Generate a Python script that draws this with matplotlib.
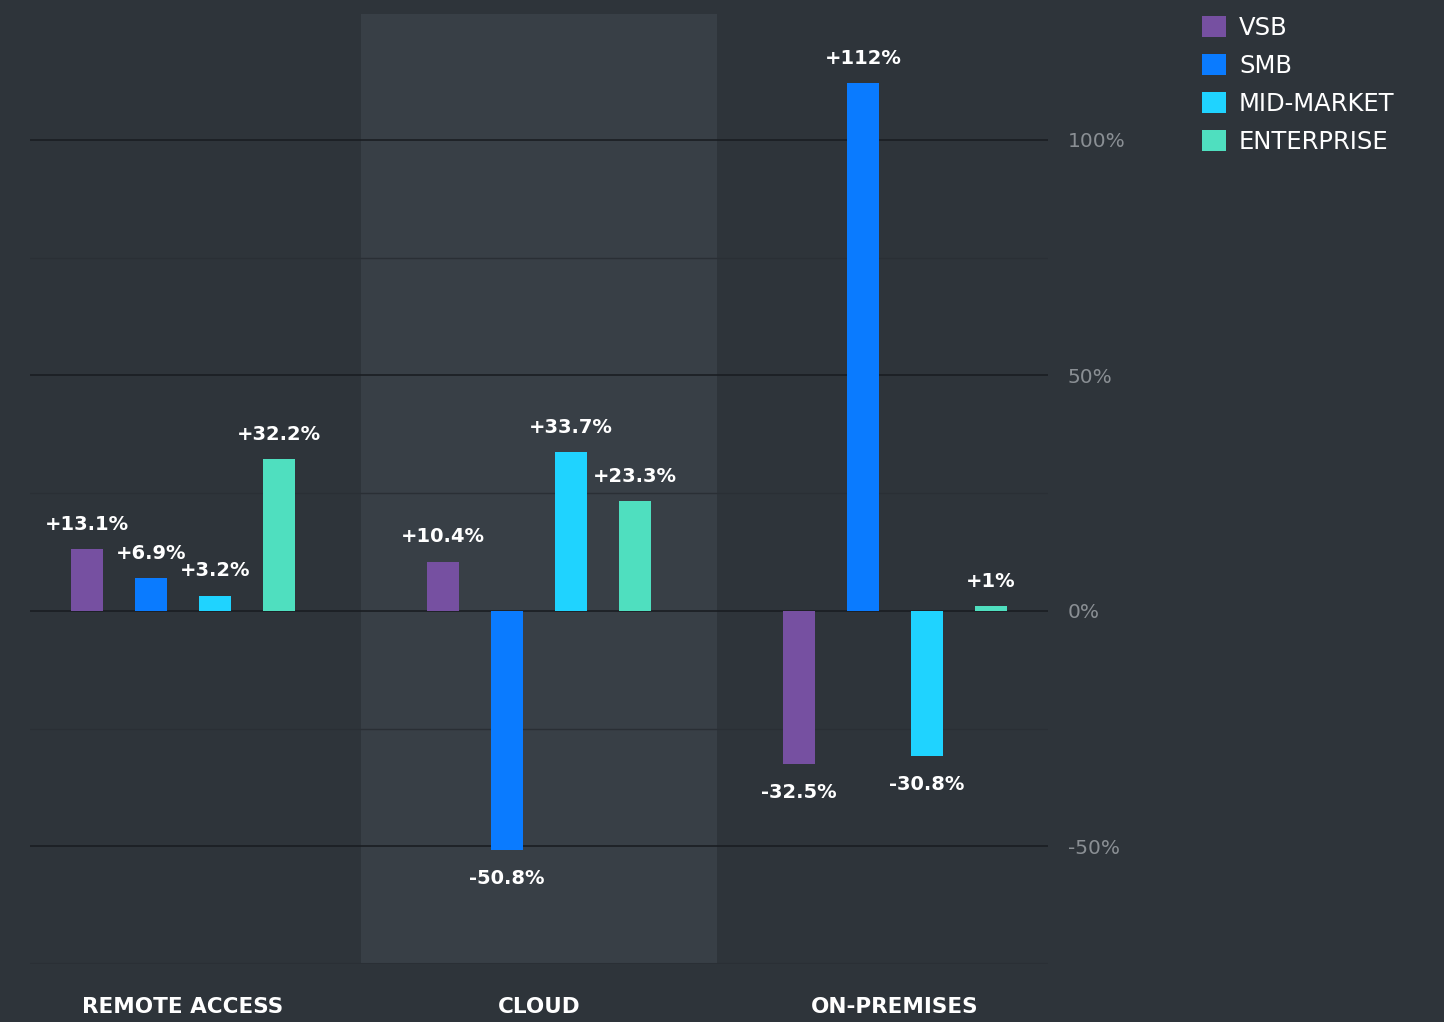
import numpy as np
import matplotlib
matplotlib.use('Agg')
import matplotlib.pyplot as plt
from matplotlib.patches import Patch

# data
categories = ['REMOTE ACCESS', 'CLOUD', 'ON-PREMISES']
segments = ['VSB', 'SMB', 'MID-MARKET', 'ENTERPRISE']
vsb = [13.1, 10.4, -32.5]
smb = [6.9, -50.8, 112]
mid_market = [3.2, 33.7, -30.8]
enterprise = [32.2, 23.3, 1]
value_labels = [['+13.1%', '+10.4%', '-32.5%'],
                ['+6.9%', '-50.8%', '+112%'],
                ['+3.2%', '+33.7%', '-30.8%'],
                ['+32.2%', '+23.3%', '+1%']]
y_ticks = [-50, 0, 50, 100]
y_tick_labels = ['-50%', '0%', '50%', '100%']

colors = ['#7650a1', '#0a7bff', '#1fd3ff', '#4fdfbf']
bg = '#2e343a'
band = '#383f46'

plt.rcParams['font.family'] = ['DejaVu Sans']

fig = plt.figure(figsize=(14.44, 10.22), dpi=100, facecolor=bg)
ax = fig.add_axes([30 / 1444, 58 / 1022, 1018 / 1444, 950 / 1022])
ax.set_facecolor(bg)

x = np.arange(len(categories))
width = 0.09
step = 0.18
series = [vsb, smb, mid_market, enterprise]

ax.set_xlim(-0.43, 2.43)
ax.set_ylim(-75, 126.7)

# shaded middle category
ax.axvspan(0.5, 1.5, color=band, zorder=0, lw=0)

# grid lines
for v in [-25, 25, 75]:
    ax.axhline(v, color='#2a2f35', lw=1, zorder=1)
for v in y_ticks:
    ax.axhline(v, color='#1a1e22', lw=1.2, zorder=1)
ax.axhline(-75, color='#2a2f35', lw=1.5, zorder=1)

for i, vals in enumerate(series):
    pos = x + (i - 1.5) * step
    ax.bar(pos, vals, width, color=colors[i], zorder=3, label=segments[i])
    for p, v, lab in zip(pos, vals, value_labels[i]):
        off = 5.3 if v >= 0 else -6.0
        ax.text(p, v + off, lab, ha='center', va='center', color='white',
                fontsize=14, fontweight='bold', zorder=4)

for s in ax.spines.values():
    s.set_visible(False)
ax.set_xticks([])
ax.set_yticks([])

# right side y tick labels
for v, lab in zip(y_ticks, y_tick_labels):
    ax.text(1.0195, v, lab, transform=ax.get_yaxis_transform(),
            ha='left', va='center_baseline', color='#8a8f94', fontsize=14.5)

# category labels
for xi, c in zip(x, categories):
    ax.text(xi, -84.2, c, ha='center', va='center', color='white',
            fontsize=15.5, fontweight='bold', clip_on=False)

handles = [Patch(facecolor=c, label=s) for c, s in zip(colors, segments)]
leg = fig.legend(handles=handles, loc='upper left',
                 bbox_to_anchor=(1180 / 1444, 1 + 6 / 1022), frameon=False,
                 fontsize=17.5, handlelength=0.98, handleheight=0.98,
                 handletextpad=0.55, labelspacing=0.57)
for t in leg.get_texts():
    t.set_color('white')

fig.savefig('out.png', dpi=100, facecolor=bg)
